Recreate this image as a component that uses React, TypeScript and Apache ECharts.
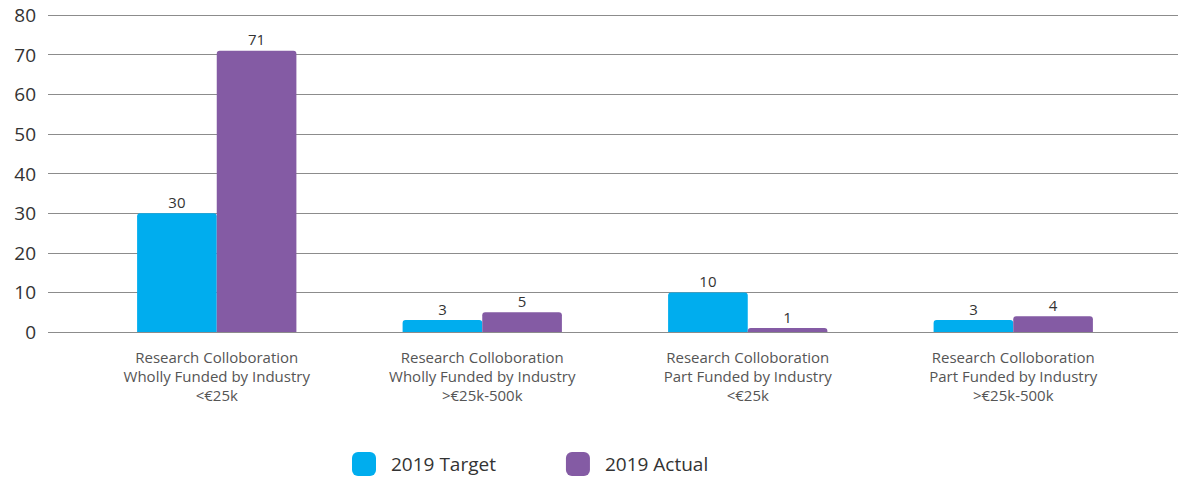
import React, { useEffect, useRef } from "react";
import * as echarts from "echarts";

const categories = [
  "Research Colloboration\nWholly Funded by Industry\n<€25k",
  "Research Colloboration\nWholly Funded by Industry\n>€25k-500k",
  "Research Colloboration\nPart Funded by Industry\n<€25k",
  "Research Colloboration\nPart Funded by Industry\n>€25k-500k",
];
const target2019 = [30, 3, 10, 3];
const actual2019 = [71, 5, 1, 4];
const seriesNames = ["2019 Target", "2019 Actual"];
const colors = ["#00ADEE", "#845BA4"];

const FONT = "'Open Sans', 'Noto Sans', sans-serif";

export default function App() {
  const ref = useRef<HTMLDivElement>(null);
  useEffect(() => {
    if (!ref.current) return;
    const chart = echarts.init(ref.current, undefined, { renderer: "svg" });
    chart.setOption({
      animation: false,
      backgroundColor: "#ffffff",
      textStyle: { fontFamily: FONT },
      legend: {
        data: seriesNames,
        left: 347,
        top: 447,
        icon: "roundRect",
        itemWidth: 24,
        itemHeight: 24,
        itemGap: 70,
        textStyle: { fontSize: 19, color: "#333", fontFamily: FONT, padding: [0, 0, 0, 10] },
      },
      grid: [
        { left: 48, right: 4, top: 15, bottom: 145 },
        { left: 84, width: 1062, top: 15, bottom: 145 },
      ],
      xAxis: [
        { type: "value", gridIndex: 0, show: false, min: 0, max: 1 },
        {
          type: "category",
          gridIndex: 1,
          data: categories,
          axisLine: { show: false },
          axisTick: { show: false },
          axisLabel: {
            interval: 0,
            margin: 15,
            fontSize: 15,
            lineHeight: 19,
            color: "#555",
            fontFamily: FONT,
          },
        },
      ],
      yAxis: [
        {
          type: "value",
          gridIndex: 0,
          min: 0,
          max: 80,
          interval: 10,
          axisLine: { show: false },
          axisTick: { show: false },
          axisLabel: { fontSize: 19, color: "#333", margin: 12, fontFamily: FONT },
          splitLine: { lineStyle: { color: "#8c8c8c", width: 1.2 } },
        },
        {
          type: "value",
          gridIndex: 1,
          min: 0,
          max: 80,
          interval: 10,
          show: false,
          splitLine: { show: false },
        },
      ],
      series: [
        {
          name: seriesNames[0],
          type: "bar",
          xAxisIndex: 1,
          yAxisIndex: 1,
          data: target2019,
          barGap: "0%",
          barCategoryGap: "40%",
          itemStyle: { color: colors[0], borderRadius: [3, 3, 0, 0] },
          label: { show: true, position: "top", distance: 4, fontSize: 15, color: "#333", fontFamily: FONT },
        },
        {
          name: seriesNames[1],
          type: "bar",
          xAxisIndex: 1,
          yAxisIndex: 1,
          data: actual2019,
          barGap: "0%",
          barCategoryGap: "40%",
          itemStyle: { color: colors[1], borderRadius: [3, 3, 0, 0] },
          label: { show: true, position: "top", distance: 4, fontSize: 15, color: "#333", fontFamily: FONT },
        },
      ],
    });
    return () => chart.dispose();
  }, []);
  return (
    <div
      ref={ref}
      style={{ position: "fixed", left: 0, top: 0, width: 1182, height: 477 }}
    />
  );
}
